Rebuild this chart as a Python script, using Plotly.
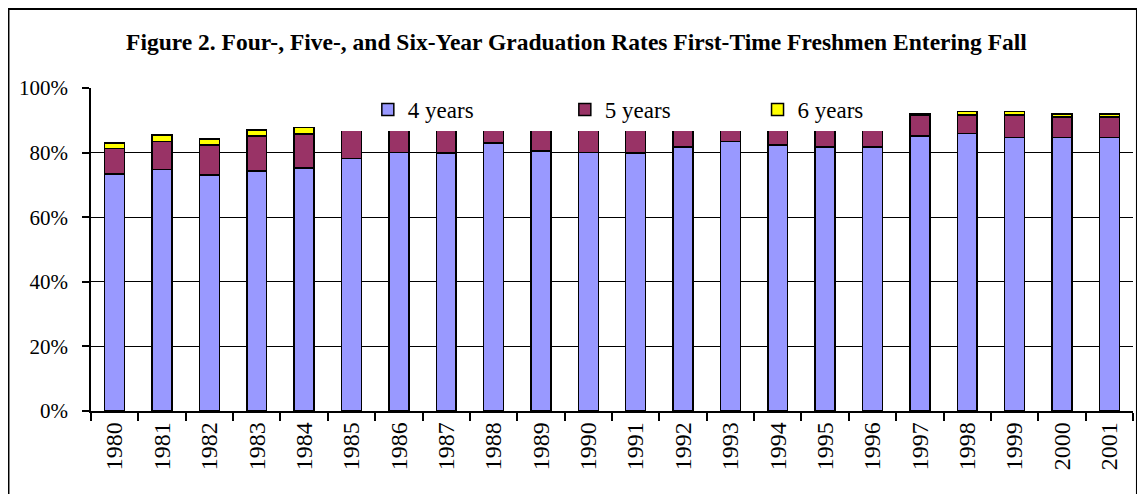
import plotly.graph_objects as go

years = [str(y) for y in range(1980, 2002)]
# cumulative graduation rate (percent)
four_year = [73.3, 74.8, 73.1, 74.3, 75.3, 78.2, 80.0, 79.9, 83.0, 80.5, 80.0, 79.9,
             81.7, 83.4, 82.4, 81.7, 81.7, 85.2, 85.9, 84.7, 84.6, 84.6]
# additional graduates within 5 years (1985-1996 tops are hidden behind the legend)
five_year_add = [7.9, 8.6, 9.3, 10.9, 10.5, 10.3, 8.5, 8.6, 5.5, 8.0, 8.5, 8.6,
                 6.8, 5.1, 6.1, 6.8, 6.8, 6.4, 5.7, 6.9, 6.4, 6.4]
# additional graduates within 6 years
six_year_add = [1.8, 2.0, 1.8, 1.8, 1.9, 0, 0, 0, 0, 0, 0, 0,
                0, 0, 0, 0, 0, 0.5, 1.2, 1.2, 1.0, 1.0]

series_names = ["4 years", "5 years", "6 years"]
series_colors = ["#9999FF", "#993366", "#FFFF00"]
series_values = [four_year, five_year_add, six_year_add]
series_legends = ["legend", "legend", "legend2"]

title_text = "Figure 2. Four-, Five-, and Six-Year Graduation Rates First-Time Freshmen Entering Fall"

fig = go.Figure()
for name, color, vals, lg in zip(series_names, series_colors, series_values, series_legends):
    fig.add_trace(go.Bar(
        x=years, y=vals, name=name, legend=lg,
        marker=dict(color=color, line=dict(color="black", width=1.5)),
    ))

serif = "Liberation Serif, Times New Roman, serif"
legend_font = dict(family=serif, size=23, color="black")

fig.update_layout(
    barmode="stack",
    bargap=0.58,
    width=1137, height=486,
    margin=dict(l=83, r=12, t=80, b=83),
    paper_bgcolor="white",
    plot_bgcolor="white",
    font=dict(family=serif, color="black", size=20),
    title=dict(text="<b>" + title_text + "</b>", x=0.5, xanchor="center",
               y=0.930, yanchor="middle", yref="container",
               font=dict(family=serif, size=23.5, color="black")),
    showlegend=True,
    legend=dict(orientation="h", x=0.234, xanchor="left", y=0.867, yanchor="bottom",
                bgcolor="white", borderwidth=0, font=legend_font,
                entrywidth=119, entrywidthmode="pixels", indentation=33,
                traceorder="normal"),
    legend2=dict(orientation="h", x=0.608, xanchor="left", y=0.867, yanchor="bottom",
                 bgcolor="white", borderwidth=0, font=legend_font,
                 entrywidth=87, entrywidthmode="pixels", indentation=33),
    xaxis=dict(type="category", showline=True, linecolor="black", linewidth=1.5,
               ticks="outside", tickson="boundaries", ticklen=8, tickwidth=1.5,
               tickcolor="black", tickangle=-90, tickfont=dict(size=24),
               showgrid=False),
    yaxis=dict(range=[0, 100], dtick=20, ticksuffix="%", showline=True,
               linecolor="black", linewidth=1.5, ticks="outside", ticklen=7,
               tickwidth=1.5, tickcolor="black", showgrid=True, gridcolor="black",
               gridwidth=1, zeroline=False, tickfont=dict(size=21),
               ticklabelstandoff=10),
)

# outer frame around the whole chart
fig.add_shape(type="rect", xref="paper", yref="paper",
              x0=-0.0792, x1=1.0038, y0=-0.30, y1=1.2446,
              line=dict(color="black", width=2), fillcolor="rgba(0,0,0,0)",
              layer="above")

fig.write_html("out.html")
